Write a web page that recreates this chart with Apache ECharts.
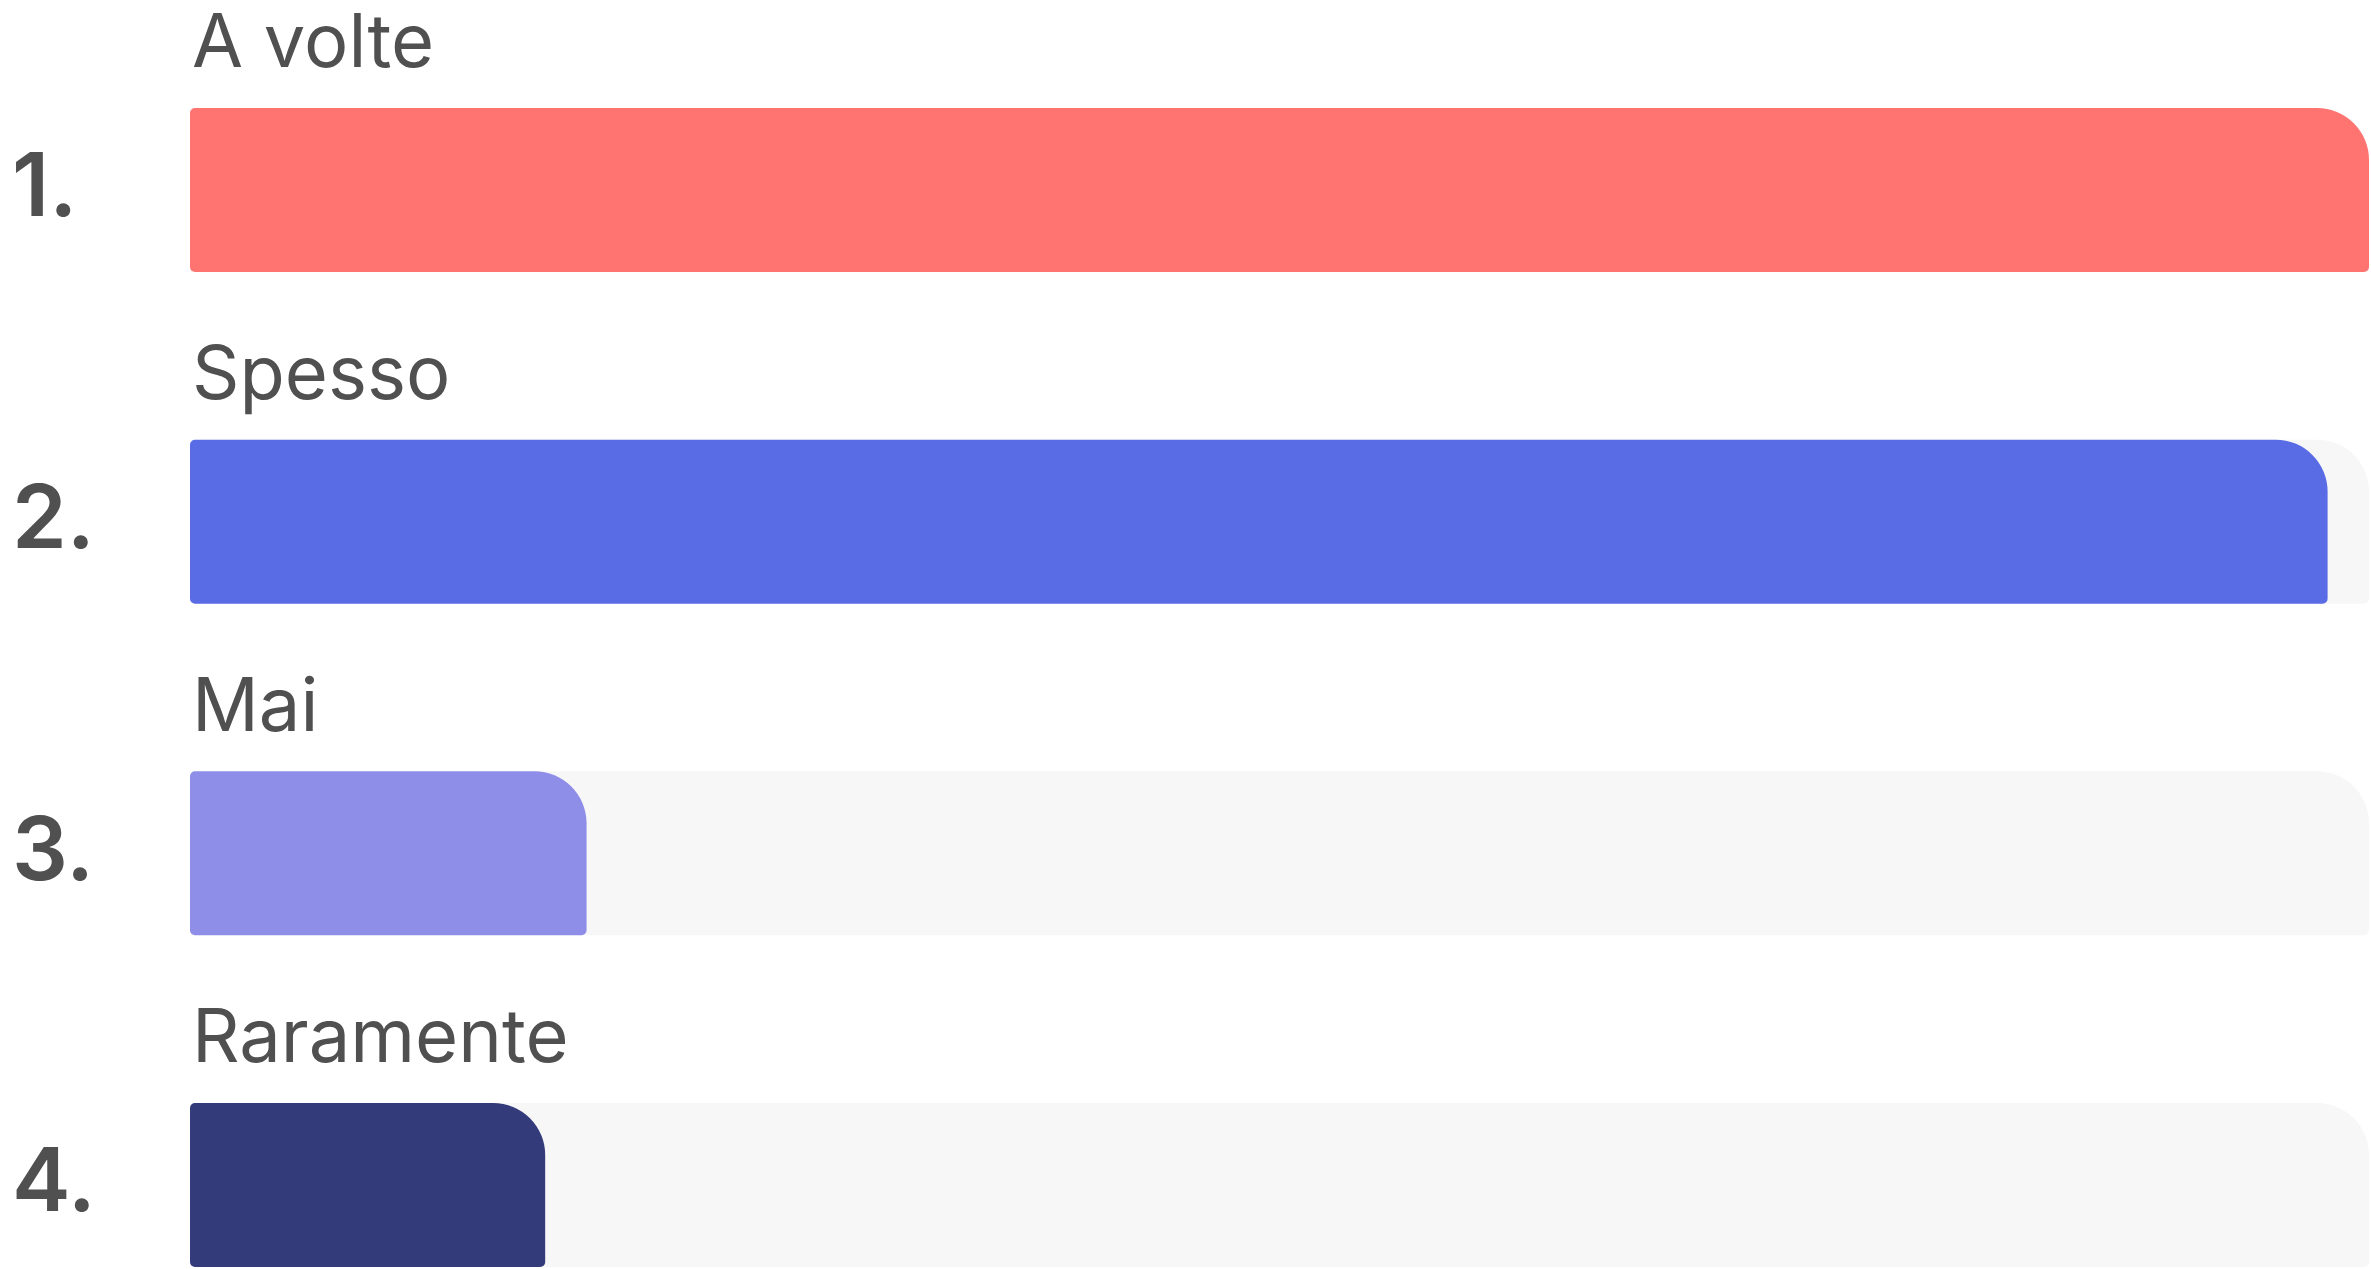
<!DOCTYPE html>
<html>
<head>
<meta charset="utf-8">
<script src="https://cdn.jsdelivr.net/npm/echarts@6/dist/echarts.min.js"></script>
<style>
  html, body { margin: 0; padding: 0; background: #fff; }
  #main { width: 2371px; height: 1269px; }
</style>
</head>
<body>
<div id="main"></div>
<script>
// categorie e valori (quota relativa, la prima barra è piena)
const categories = ['A volte', 'Spesso', 'Mai', 'Raramente']
const values = [100, 98.1, 18.2, 16.3]
const barColors = ['#ff7470', '#5a6be6', '#8e8ee9', '#333b7a']

const myChart = echarts.init(document.getElementById('main'))

const option = {
  backgroundColor: '#ffffff',
  animation: false,
  // le categorie stanno sui tick (boundaryGap false): centri delle barre da 190 a 1185
  grid: {
    left: 190,
    top: 190,
    width: 2179,
    height: 995
  },
  xAxis: {
    type: 'value',
    min: 0,
    max: 100,
    show: false
  },
  yAxis: {
    type: 'category',
    inverse: true,
    boundaryGap: false,
    data: categories,
    axisLine: { show: false },
    axisTick: { show: false },
    splitLine: { show: false },
    axisLabel: {
      align: 'left',
      margin: 178,
      fontFamily: 'Inter',
      fontWeight: 600,
      fontSize: 88,
      color: '#505050',
      formatter: (val, idx) => (idx + 1) + '.'
    }
  },
  series: [
    {
      type: 'bar',
      barWidth: 164,
      clip: false,
      data: values.map((v, i) => ({
        value: v,
        itemStyle: { color: barColors[i] }
      })),
      itemStyle: {
        borderRadius: [5, 52, 5, 5]
      },
      showBackground: true,
      backgroundStyle: {
        color: '#f7f7f7',
        borderRadius: [5, 52, 5, 5]
      },
      label: {
        show: true,
        position: [2, -63],
        verticalAlign: 'middle',
        align: 'left',
        fontFamily: 'Inter',
        fontSize: 74,
        color: '#505050',
        formatter: p => p.name
      }
    }
  ]
}

myChart.setOption(option)
</script>
</body>
</html>
